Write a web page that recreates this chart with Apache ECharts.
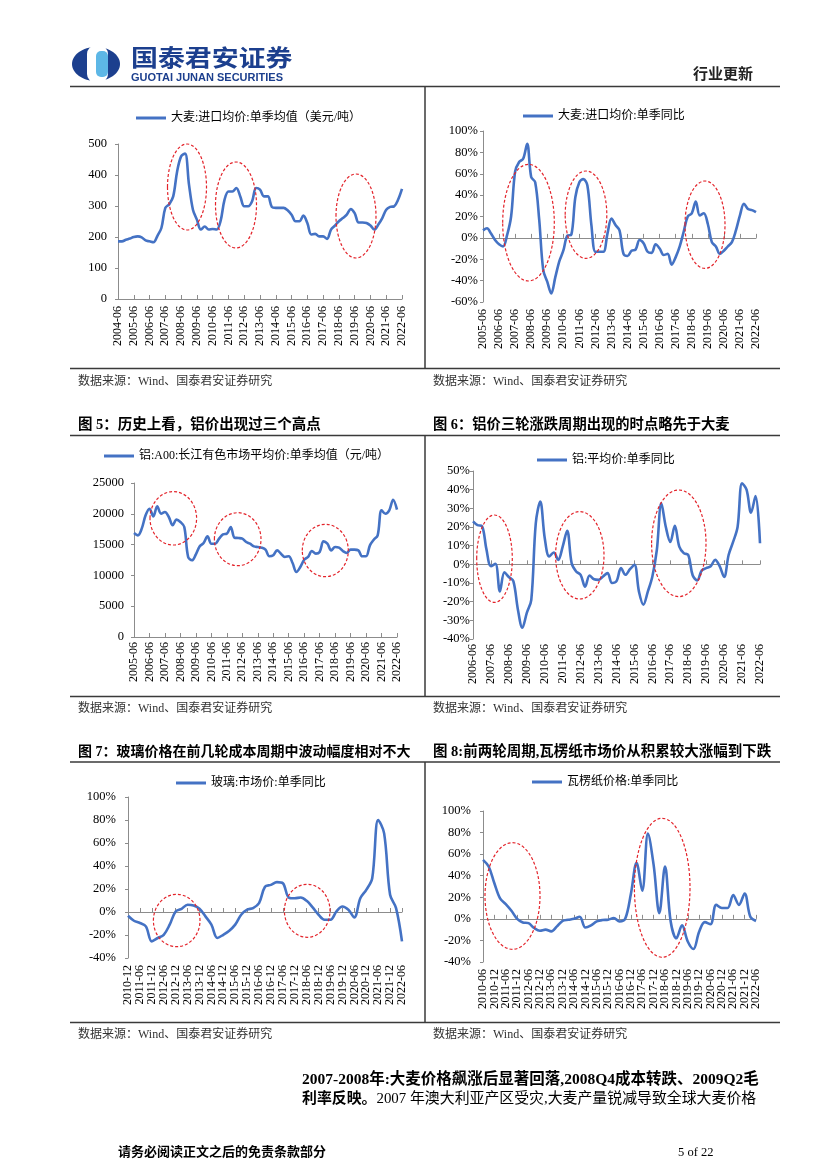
<!DOCTYPE html>
<html><head><meta charset="utf-8">
<script src="https://cdn.jsdelivr.net/npm/echarts@6/dist/echarts.min.js"></script>
<style>html,body{margin:0;padding:0;background:#fff}#c{width:827px;height:1170px}</style>
</head><body><div id="c"></div>
<script>
// ---------- data (quarterly) ----------
const barleyPrice = [186,186,191,195, 200,202,199,189, 186,183,204,229, 294,306,331,412, 460,469,369,288, 256,224,234,224, 226,224,251,320, 347,347,358,331, 299,299,315,358, 353,331,331,297, 294,294,294,286, 272,251,251,269, 245,208,210,202, 202,194,224,237, 251,261,272,290, 277,247,247,245, 237,224,240,261, 288,297,299,320, 355];
const barleyYoY = [7,9,4,-2, -6,-8,2.5,20, 62,71,74,88, 57,52,17,-30, -41,-52,-37,-22, -12,2,3,38, 52,55,49,12, -13,-13,-13,4, 18,12,7,-15, -17,-12,-11,-2, -5,-13,-14,-6, -10,-16,-15,-25, -18,-8,6,20, 23,34,21,23, 13,-4,-8,-15, -12,-8,-4,7, 21,32,27,26, 24];
const alPrice = [16880,16500,17590,19750, 20830,19590,21210,20020, 20290,19480,18130,19050, 18670,17860,12990,12450, 13420,14720,15260,16340, 15150,15150,15960,16670, 16770,17860,16120,16070, 15960,15420,15150,14720, 14610,14500,14180,13100, 13260,14070,13530,12990, 13100,12010,10550,11360, 12550,12990,13960,13530, 13800,15530,15150,14070, 14610,14500,13960,13640, 14180,14180,14070,13100, 13100,14880,15800,16500, 20560,20020,20560,22290, 20670];
const alYoY = [23,21,20.5,8, -1,0.3,-14.5,-4.3, -6.8,-9,-24,-34, -26,-19,22,33.6, 14,4.2,6.3,2.4, 9.5,18,0.6,-3.8, -5.6,-12,-6,-8, -8.3,-6.5,-4.7,-10, -9,-2,-5.6,-2.6, -0.2,-14.5,-21.6,-14.5, -6.5,7.8,32.7,20, 12,20.6,9.5,6, 5,-6,-8.6,-3.3, -2,-1,2.4,-1, -6.8,5,12,20, 43.4,40,27.7,36.6, 11.3];
const glassYoY = [-3.3, -7.6,-9.6,-12.5,-25.5, -22.6,-19.8,-11,0.5, 2.8,6.3,5.7,2.8, -3.8,-11,-22.6,-19.8, -16.3,-11,-2.4,2, 3.4,7.7,22,23.6, 26,25,12.6,12, 12.6,9.7,4,-2.4, -6.7,-6.7,0.5,4.8, 2,-4.7,12,19.3, 29.4,80,68.4,15, 3.4,-25.5];
const corrYoY = [54.7,48.5,33, 19,13.7,7.5,0, -3.3,-4,-8.5,-11, -10,-11.6,-7,-1.8, -0.8,0,2,-8, -6,-2.4,-1.1,-0.8, 0.7,-2.4,0,23, 52,26,79,50, 5.3,48.5,-2.4,-18, -6,-21,-28,-12, -3,-5,13,10, 10,22,13,23.5, 2,-2];

function quarters(y, m, ey, em) {
  const out = [];
  while (y < ey || (y === ey && m <= em)) {
    out.push(y + '-' + String(m).padStart(2, '0'));
    m += 3; if (m > 12) { m -= 12; y++; }
  }
  return out;
}
const catsBarleyPrice = quarters(2004, 6, 2022, 6);
const catsBarleyYoY = quarters(2005, 6, 2022, 6);
const catsAlPrice = quarters(2005, 6, 2022, 6);
const catsAlYoY = quarters(2006, 6, 2022, 6);
const catsGlass = quarters(2010, 12, 2022, 6);
const catsCorr = quarters(2010, 6, 2022, 6);

const names = ['大麦:进口均价:单季均值（美元/吨）', '大麦:进口均价:单季同比', '铝:A00:长江有色市场平均价:单季均值（元/吨）', '铝:平均价:单季同比', '玻璃:市场价:单季同比', '瓦楞纸价格:单季同比'];

// ---------- layout ----------
const FONT = "'Times New Roman','Liberation Serif','Noto Sans CJK SC',serif";
const CJK = "'Liberation Serif','Noto Sans CJK SC',sans-serif";
const BLUE = '#4472C4';
const AX = '#8c8c8c';

const charts = [
  {name: names[0], cats: catsBarleyPrice, data: barleyPrice, grid: {left: 118, top: 144, width: 284, height: 155}, y: {min: 0, max: 500, interval: 100}, pct: false, step: 3, yMargin: 11, xMargin: 7, legend: {left: 136, top: 112}},
  {name: names[1], cats: catsBarleyYoY, data: barleyYoY, grid: {left: 483, top: 131, width: 273, height: 171}, y: {min: -60, max: 100, interval: 20}, pct: true, step: 3, yMargin: 5, xMargin: 7, legend: {left: 523, top: 110}},
  {name: names[2], cats: catsAlPrice, data: alPrice, grid: {left: 134, top: 483, width: 263, height: 154}, y: {min: 0, max: 25000, interval: 5000}, pct: false, step: 3, yMargin: 10, xMargin: 5, legend: {left: 104, top: 450}},
  {name: names[3], cats: catsAlYoY, data: alYoY, grid: {left: 473, top: 471, width: 287, height: 168}, y: {min: -40, max: 50, interval: 10}, pct: true, step: 3, yMargin: 3, xMargin: 5, legend: {left: 537, top: 454}},
  {name: names[4], cats: catsGlass, data: glassYoY, grid: {left: 128, top: 797, width: 274, height: 161}, y: {min: -40, max: 100, interval: 20}, pct: true, step: 1, yMargin: 12, xMargin: 7, legend: {left: 176, top: 777}},
  {name: names[5], cats: catsCorr, data: corrYoY, grid: {left: 483, top: 811, width: 273, height: 151}, y: {min: -40, max: 100, interval: 20}, pct: true, step: 1, yMargin: 12, xMargin: 7, legend: {left: 532, top: 776}}
];

const grid = [], xAxis = [], yAxis = [], series = [], legend = [];
charts.forEach((c, i) => {
  grid.push(Object.assign({containLabel: false}, c.grid));
  // axis carrying the series: drawn at the zero line with tick marks
  xAxis.push({gridIndex: i, type: 'category', data: c.cats, boundaryGap: false, position: 'bottom',
    axisLine: {onZero: true, lineStyle: {color: AX, width: 1}},
    axisTick: {show: true, interval: c.step, inside: true, length: 4, lineStyle: {color: AX}},
    axisLabel: {show: false}, splitLine: {show: false}});
  // label-only axis at the bottom of the plot (only the labelled periods, same spacing)
  const labelCats = c.cats.filter((_, j) => j % (c.step + 1) === 0);
  xAxis.push({gridIndex: i, type: 'category', data: labelCats, boundaryGap: false, position: 'bottom',
    axisLine: {show: false, onZero: false}, axisTick: {show: false},
    axisLabel: {interval: 0, rotate: 90, margin: c.xMargin, fontSize: 12, fontFamily: FONT, color: '#000', hideOverlap: false},
    splitLine: {show: false}});
  yAxis.push({gridIndex: i, type: 'value', min: c.y.min, max: c.y.max, interval: c.y.interval,
    splitLine: {show: false},
    axisLine: {show: true, lineStyle: {color: AX, width: 1}},
    axisTick: {show: true, length: 3, lineStyle: {color: AX}},
    axisLabel: {margin: c.yMargin, fontSize: 12.5, fontFamily: FONT, color: '#000',
      formatter: c.pct ? (v => v + '%') : (v => String(v))}});
  series.push({type: 'line', name: c.name, xAxisIndex: 2 * i, yAxisIndex: i, data: c.data, smooth: 0.35,
    showSymbol: false, symbol: 'none', lineStyle: {color: BLUE, width: 2.6}, itemStyle: {color: BLUE}});
  legend.push({left: c.legend.left, top: c.legend.top, data: [c.name], icon: 'rect', itemWidth: 30, itemHeight: 3,
    padding: 0, selectedMode: false, textStyle: {fontSize: 12, fontFamily: CJK, color: '#000'}});
});

// ---------- page furniture ----------
const g = [];
function line(x1, y1, x2, y2, w, col) { g.push({type: 'line', shape: {x1, y1, x2, y2}, style: {stroke: col || '#3a3a3a', lineWidth: w || 1.5}, silent: true}); }
function text(x, y, t, size, opt) {
  opt = opt || {};
  const el = {type: 'text', x, y, silent: true, style: Object.assign({text: t, fontSize: size, fontFamily: opt.family || CJK, fontWeight: opt.weight || 'normal', fill: opt.color || '#000', verticalAlign: 'middle', align: opt.align || 'left'}, opt.extra || {})};
  if (opt.scaleX) { el.scaleX = opt.scaleX; }
  g.push(el);
}
// frame lines
[86.5, 368.5, 435.5, 696.5, 762, 1022.5].forEach(y => line(70, y, 780, y, 1.6));
line(425, 87, 425, 368); line(425, 436, 425, 696); line(425, 762, 425, 1022);

// logo
g.push({type: 'ellipse', shape: {cx: 96, cy: 64, rx: 24, ry: 17}, style: {fill: '#1c3f8e'}, silent: true});
g.push({type: 'rect', shape: {x: 87, y: 45, width: 21, height: 38, r: 9}, style: {fill: '#fff'}, silent: true});
g.push({type: 'rect', shape: {x: 96, y: 51, width: 12, height: 26, r: 5}, style: {fill: '#5db7e6'}, silent: true});
text(131, 57, '国泰君安证券', 23, {weight: 'bold', color: '#1c3f8e', family: "'Noto Sans CJK SC',sans-serif", scaleX: 1.17});
text(131, 78, 'GUOTAI JUNAN SECURITIES', 11, {weight: 'bold', color: '#1c3f8e', family: "'Liberation Sans',Arial,sans-serif"});
text(693, 75, '行业更新', 15, {weight: 'bold', color: '#222'});

// sources & titles
const SRC = '数据来源：Wind、国泰君安证券研究';
[381.5, 708.5, 1035].forEach(y => { text(78, y, SRC, 12, {color: '#333'}); text(433, y, SRC, 12, {color: '#333'}); });
text(78, 425, '图 5：历史上看，铝价出现过三个高点', 14.5, {weight: 'bold'});
text(433, 425, '图 6：铝价三轮涨跌周期出现的时点略先于大麦', 14.3, {weight: 'bold'});
text(78, 752, '图 7：玻璃价格在前几轮成本周期中波动幅度相对不大', 14, {weight: 'bold'});
text(433, 752, '图 8:前两轮周期,瓦楞纸市场价从积累较大涨幅到下跌', 14.5, {weight: 'bold'});

// paragraph
text(302, 1080, '2007-2008年:大麦价格飙涨后显著回落,2008Q4成本转跌、2009Q2毛', 15.5, {weight: 'bold'});
g.push({type: 'text', x: 302, y: 1099, silent: true, style: {text: '{b|利率反映。}{n|2007 年澳大利亚产区受灾,大麦产量锐减导致全球大麦价格}', verticalAlign: 'middle',
  rich: {b: {fontSize: 14.9, fontWeight: 'bold', fontFamily: CJK, fill: '#000'}, n: {fontSize: 14.9, fontFamily: CJK, fill: '#000'}}}});
// footer
text(118, 1153, '请务必阅读正文之后的免责条款部分', 13, {weight: 'bold'});
text(678, 1153, '5 of 22', 12.5, {family: FONT});

// red dashed highlight ellipses (annotations)
const ellipses = [
  [187, 187, 19.5, 43], [236, 205, 20.5, 43], [356, 216, 20, 42],
  [528.5, 222.7, 25.8, 58.3], [586, 214.7, 20.8, 43.7], [705, 224.7, 20, 43.7],
  [173.3, 518.3, 23.3, 26.7], [237.7, 539.2, 23.3, 26.5], [325.3, 550.5, 23, 26.2],
  [494.5, 558.7, 17.8, 43.7], [579.8, 555.3, 24.2, 43.7], [678.8, 543.3, 27.2, 53.3],
  [176.7, 920.5, 23.3, 26.2], [307.2, 910.8, 22.8, 26.5],
  [512.5, 896, 27.5, 53.3], [662.2, 887.8, 27.8, 69.5]
];
ellipses.forEach(e => g.push({type: 'ellipse', z: 100, silent: true, shape: {cx: e[0], cy: e[1], rx: e[2], ry: e[3]},
  style: {fill: 'none', stroke: '#e3242b', lineWidth: 1.2, lineDash: [3, 2]}}));

const chart = echarts.init(document.getElementById('c'), null, {renderer: 'canvas'});
chart.setOption({animation: false, backgroundColor: '#fff', grid, xAxis, yAxis, series, legend, graphic: g});
</script></body></html>
